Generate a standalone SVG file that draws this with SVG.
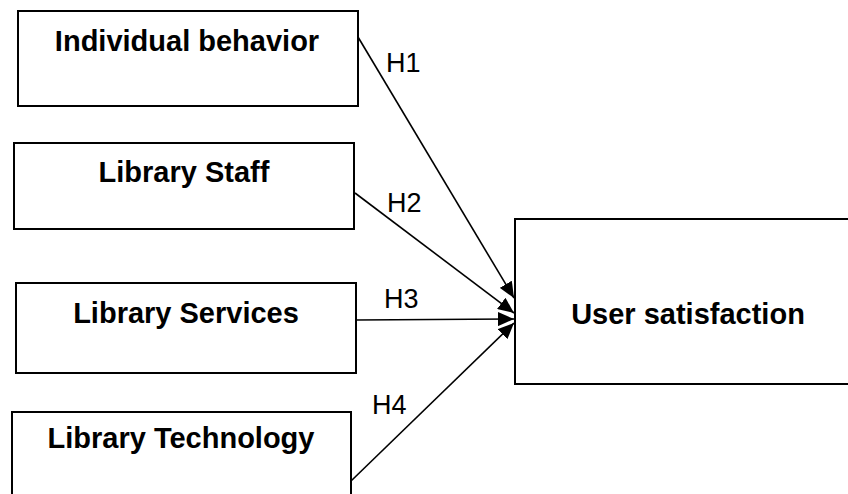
<svg xmlns="http://www.w3.org/2000/svg" width="848" height="494" viewBox="0 0 848 494">
  <style>
    .box { fill: #ffffff; stroke: #000000; stroke-width: 2; }
    .title { font-family: "Liberation Sans", Arial, sans-serif; font-size: 29px; font-weight: bold; fill: #000000; text-anchor: middle; }
    .hyp { font-family: "Liberation Sans", Arial, sans-serif; font-size: 27px; fill: #000000; }
    .edge { stroke: #000000; stroke-width: 1.6; fill: none; marker-end: url(#head); }
  </style>
  <defs>
    <marker id="head" viewBox="0 0 16 14" refX="16" refY="7" markerWidth="16" markerHeight="14" markerUnits="userSpaceOnUse" orient="auto">
      <path d="M0,0 L16,7 L0,14 z" fill="#000000"/>
    </marker>
  </defs>
  <rect width="848" height="494" fill="#ffffff"/>

  <g id="individual-behavior">
    <rect class="box" x="18" y="11" width="340" height="95"/>
    <text class="title" x="187" y="51">Individual behavior</text>
  </g>
  <g id="library-staff">
    <rect class="box" x="14" y="143" width="340" height="86"/>
    <text class="title" x="184" y="182">Library Staff</text>
  </g>
  <g id="library-services">
    <rect class="box" x="16" y="283" width="340" height="90"/>
    <text class="title" x="186" y="323">Library Services</text>
  </g>
  <g id="library-technology">
    <rect class="box" x="12" y="412" width="339" height="92"/>
    <text class="title" x="181" y="448">Library Technology</text>
  </g>
  <g id="user-satisfaction">
    <rect class="box" x="515" y="219" width="345" height="165"/>
    <text class="title" x="688" y="324">User satisfaction</text>
  </g>

  <g id="connectors">
    <line class="edge" x1="358" y1="37" x2="514" y2="298"/>
    <line class="edge" x1="355" y1="193" x2="514" y2="313"/>
    <line class="edge" x1="356" y1="320" x2="514" y2="319"/>
    <line class="edge" x1="351" y1="481" x2="514" y2="323"/>
    <text class="hyp" x="386" y="72">H1</text>
    <text class="hyp" x="387" y="212">H2</text>
    <text class="hyp" x="384" y="308">H3</text>
    <text class="hyp" x="372" y="414">H4</text>
  </g>
</svg>
